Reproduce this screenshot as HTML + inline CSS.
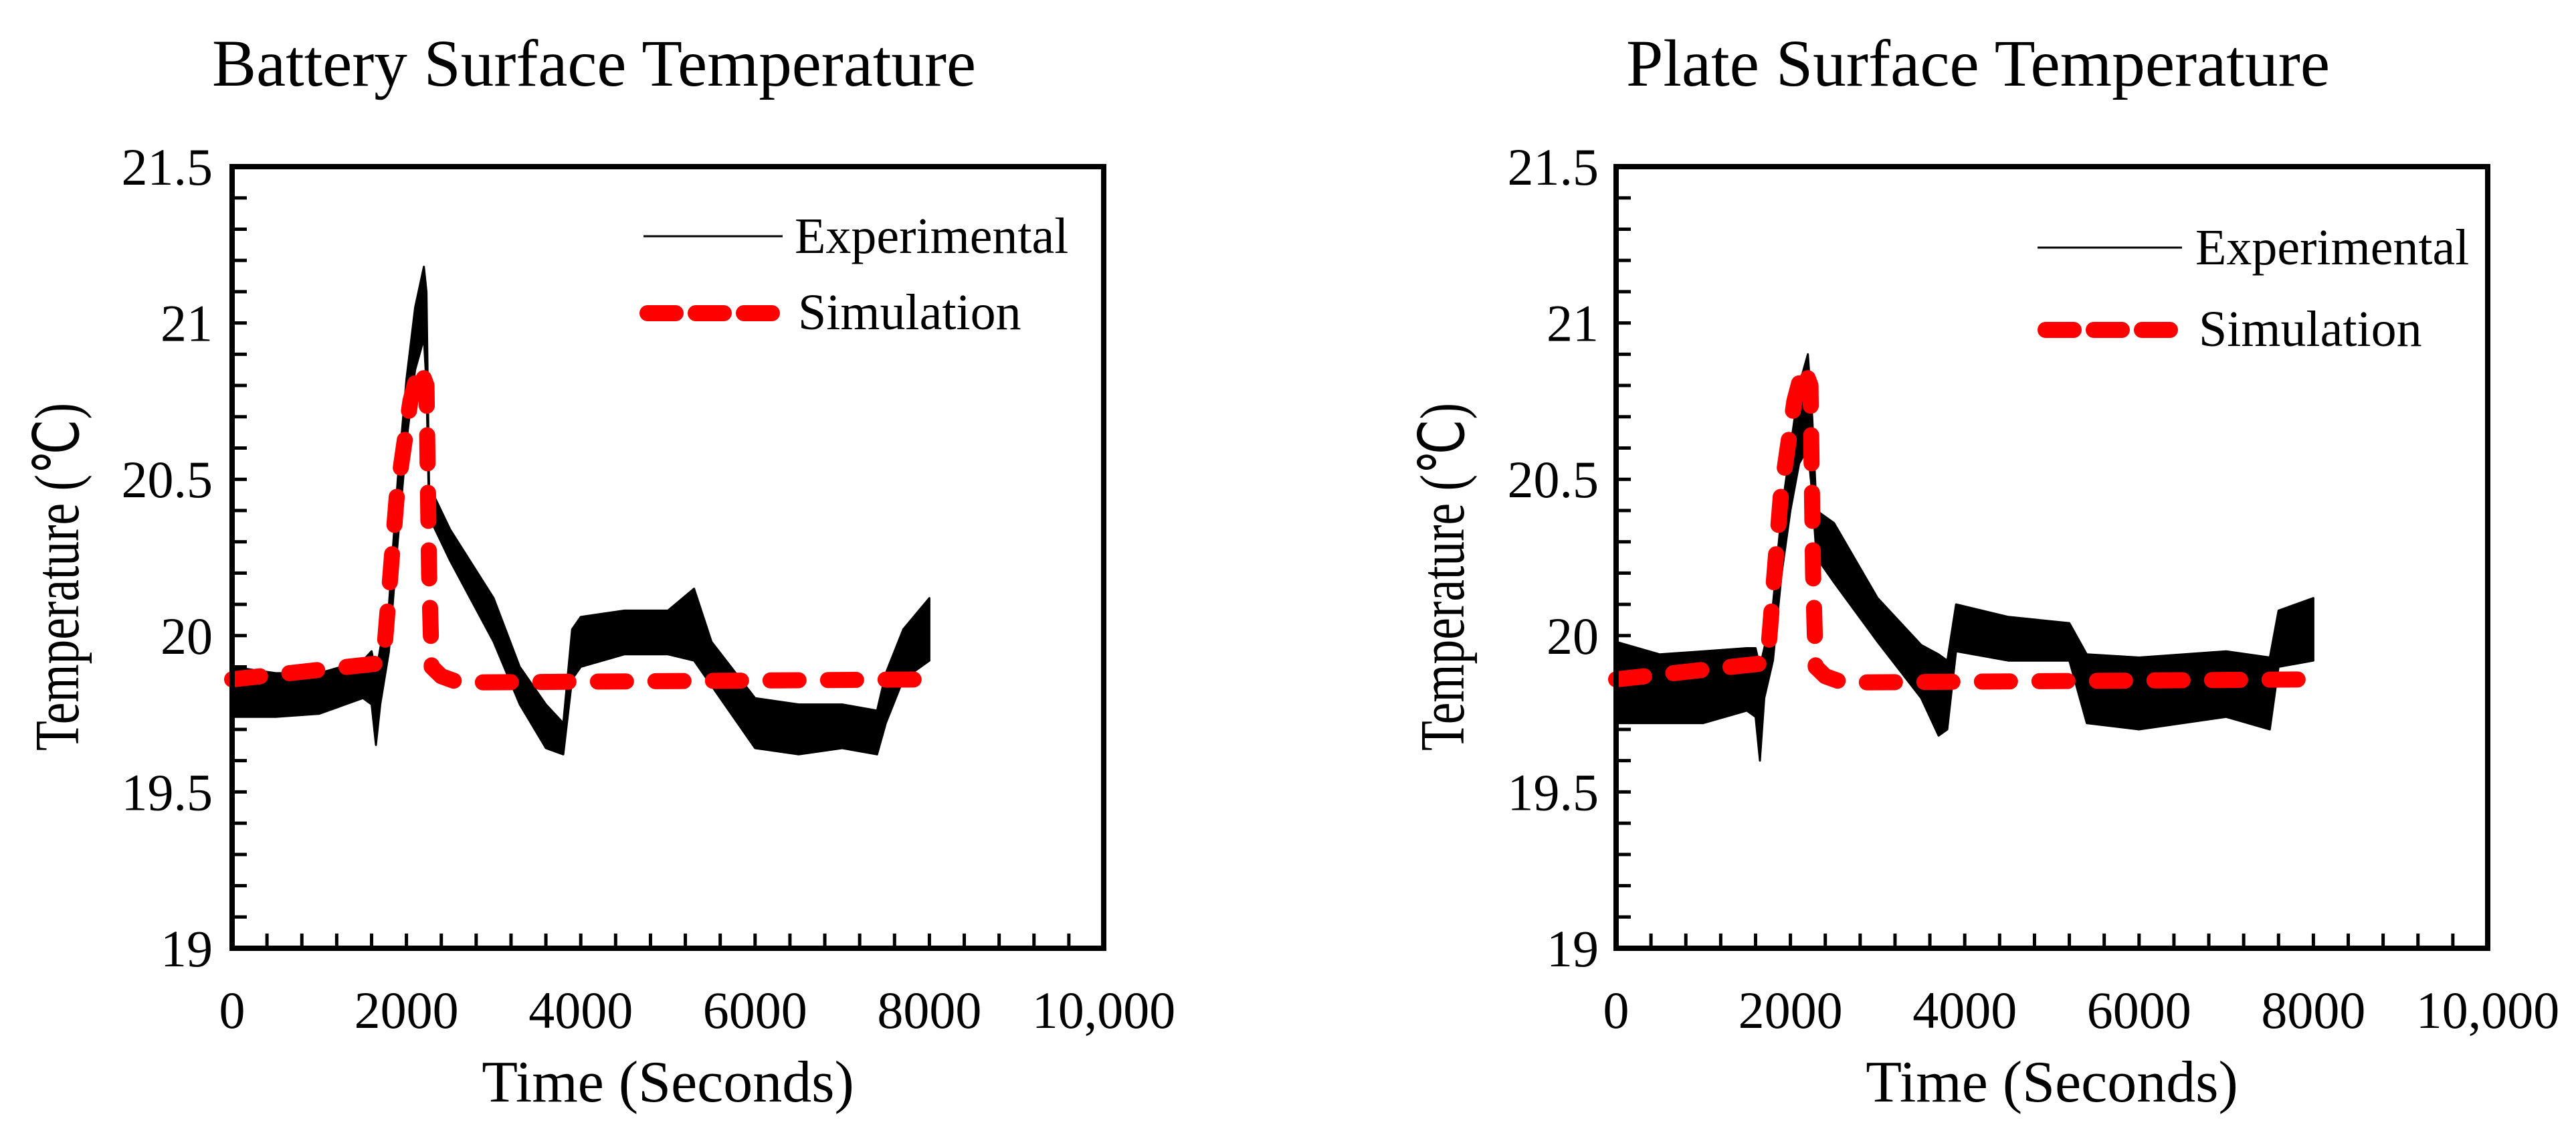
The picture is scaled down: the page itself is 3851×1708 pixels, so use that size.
<!DOCTYPE html>
<html><head><meta charset="utf-8"><style>
html,body{margin:0;padding:0;background:#fff;}
svg{display:block;}
text{font-family:"Liberation Serif",serif;fill:#000;}
</style></head><body>
<svg id="fig" width="3851" height="1708" viewBox="0 0 3851 1708" xmlns="http://www.w3.org/2000/svg"></svg>
<script>
// ---- data (time in seconds, temperature in °C) ----
const batExpT   = [0,500,1000,1500,1600,1650,1700,1800,1900,2000,2100,2200,2230,2260,2500,3000,3300,3600,3800,3900,4000,4500,5000,5300,5500,6000,6500,7000,7400,7500,7700,8000];
const batExpHi  = [19.90,19.88,19.88,19.92,19.95,19.88,19.96,20.10,20.50,20.82,21.05,21.18,21.10,20.48,20.34,20.12,19.90,19.78,19.72,20.02,20.06,20.08,20.08,20.15,19.98,19.80,19.78,19.78,19.76,19.88,20.02,20.12];
const batExpLo  = [19.74,19.74,19.75,19.80,19.78,19.65,19.78,19.95,20.30,20.62,20.85,20.95,20.80,20.38,20.24,19.98,19.78,19.64,19.62,19.86,19.90,19.94,19.94,19.92,19.84,19.64,19.62,19.64,19.62,19.72,19.86,19.92];
const batSimT   = [0,1650,1740,1890,2045,2150,2230,2260,2290,2400,2600,8000];
const batSimV   = [19.86,19.91,19.93,20.45,20.75,20.86,20.80,20.20,19.90,19.87,19.85,19.86];

const plateExpT  = [0,500,1000,1500,1600,1650,1700,1800,1900,2000,2100,2200,2250,2300,2500,3000,3500,3700,3800,3900,4500,5200,5400,6000,7000,7500,7600,8000];
const plateExpHi = [19.98,19.94,19.95,19.96,19.96,19.90,19.96,20.10,20.40,20.60,20.80,20.90,20.70,20.40,20.36,20.12,19.97,19.94,19.92,20.10,20.06,20.04,19.94,19.93,19.95,19.93,20.08,20.12];
const plateExpLo = [19.72,19.72,19.72,19.76,19.74,19.60,19.80,19.92,20.20,20.40,20.55,20.60,20.45,20.25,20.17,19.98,19.80,19.68,19.70,19.95,19.92,19.92,19.72,19.70,19.74,19.70,19.90,19.92];
const plateSimT  = [0,1650,1740,1890,2045,2150,2230,2260,2290,2400,2600,8000];
const plateSimV  = [19.86,19.91,19.93,20.45,20.75,20.86,20.80,20.20,19.90,19.87,19.85,19.86];

const xTickVals   = [0,2000,4000,6000,8000,10000];
const xTickLabels = ["0","2000","4000","6000","8000","10,000"];
const yTickVals   = [19,19.5,20,20.5,21,21.5];
const yTickLabels = ["19","19.5","20","20.5","21","21.5"];

const NS = "http://www.w3.org/2000/svg";
const svg = document.getElementById('fig');
function mk(tag, attrs, parent, txt){
  const e = document.createElementNS(NS, tag);
  for (const k in attrs) e.setAttribute(k, attrs[k]);
  if (txt !== undefined) e.textContent = txt;
  (parent||svg).appendChild(e);
  return e;
}

const panels = [
  {key:'battery', title:'Battery Surface Temperature', L:347, R:1650, titleX:888, titleW:1142, ylabX:85, ytickX:318,
   expT:batExpT, expHi:batExpHi, expLo:batExpLo, simT:batSimT, simV:batSimV,
   legLineX1:962, legLineX2:1170, legSimX1:956, legSimX2:1178, legTextX:1188},
  {key:'plate', title:'Plate Surface Temperature', L:2416, R:3719, titleX:2957, titleW:1052, ylabX:2156, ytickX:2390,
   expT:plateExpT, expHi:plateExpHi, expLo:plateExpLo, simT:plateSimT, simV:plateSimV,
   legLineX1:3046, legLineX2:3262, legSimX1:3046, legSimX2:3272, legTextX:3282}
];
const T = 249, B = 1417;

panels.forEach(p => {
  const g = mk('g', {});
  
  
  const xs = v => p.L + (v - 0) / 10000 * (p.R - p.L);
  const ys = v => B - (v - 19) / 2.5 * (B - T);

  const title = mk('text', {x:p.titleX, y:128, 'font-size':100, 'text-anchor':'middle', textLength:p.titleW, lengthAdjust:'spacingAndGlyphs'}, g, p.title);
  
  

  let pts = [];
  for (let i = 0; i < p.expT.length; i++) pts.push(xs(p.expT[i]).toFixed(1) + ',' + ys(p.expHi[i]).toFixed(1));
  for (let i = p.expT.length - 1; i >= 0; i--) pts.push(xs(p.expT[i]).toFixed(1) + ',' + ys(p.expLo[i]).toFixed(1));
  const band = mk('polygon', {points:pts.join(' '), fill:'#000', stroke:'#000', 'stroke-width':3, 'stroke-linejoin':'round'}, g);
  
  

  const sp = p.simT.map((t, i) => xs(t).toFixed(1) + ',' + ys(p.simV[i]).toFixed(1)).join(' ');
  const sim = mk('polyline', {points:sp, fill:'none', stroke:'#ff0000', 'stroke-width':24, 'stroke-dasharray':'42 44', 'stroke-linecap':'round', 'stroke-linejoin':'round'}, g);
  
  

  const fr = mk('rect', {x:p.L, y:T, width:p.R - p.L, height:B - T, fill:'none', stroke:'#000', 'stroke-width':8}, g);
  
  

  for (let v = 400; v < 10000; v += 400) {
    const t = mk('line', {x1:xs(v), x2:xs(v), y1:B, y2:B - 22, stroke:'#000', 'stroke-width':5}, g);
    
    
  }
  for (let k = 1; k < 25; k++) {
    const v = 19 + k * 0.1;
    const t = mk('line', {x1:p.L, x2:p.L + 22, y1:ys(v), y2:ys(v), stroke:'#000', 'stroke-width':5}, g);
    
    
  }
  xTickVals.forEach((v, i) => {
    const t = mk('text', {x:xs(v), y:1536, 'font-size':78, 'text-anchor':'middle'}, g, xTickLabels[i]);
    
    
  });
  yTickVals.forEach((v, i) => {
    const t = mk('text', {x:p.ytickX, y:ys(v) + 27, 'font-size':78, 'text-anchor':'end'}, g, yTickLabels[i]);
    
    
  });
  const xt = mk('text', {x:(p.L + p.R) / 2, y:1646, 'font-size':88, 'text-anchor':'middle'}, g, 'Time (Seconds)');
  
  
  const yt = mk('text', {x:0, y:0, 'font-size':94, 'text-anchor':'middle', textLength:520, lengthAdjust:'spacingAndGlyphs', transform:'translate(' + (p.ylabX + 32) + ',862) rotate(-90)'}, g, 'Temperature (℃)');
  
  

  const lg = mk('g', {}, g);
  
  
  const off1 = p.key === 'plate' ? 17 : 0;
  const off2 = p.key === 'plate' ? 25 : 0;
  const l1 = mk('line', {x1:p.legLineX1, x2:p.legLineX2, y1:353 + off1, y2:353 + off1, stroke:'#000', 'stroke-width':3}, lg);
  
  
  const t1 = mk('text', {x:p.legTextX, y:378 + off1, 'font-size':76}, lg, 'Experimental');
  
  
  const sy = 468 + off2;
  const l2 = mk('line', {x1:p.legSimX1 + 12, x2:p.legSimX2 - 12, y1:sy, y2:sy, stroke:'#ff0000', 'stroke-width':24, 'stroke-dasharray':'42 30', 'stroke-linecap':'round'}, lg);
  
  
  const t2 = mk('text', {x:p.legTextX + 5, y:492 + off2, 'font-size':76}, lg, 'Simulation');
  
  
});
</script>
</body></html>
